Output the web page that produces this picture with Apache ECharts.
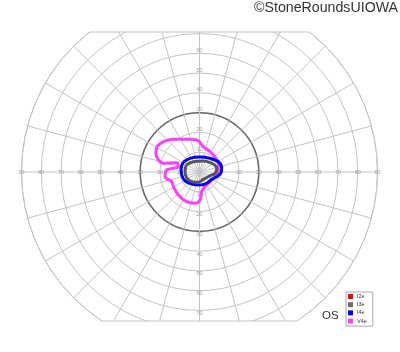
<!DOCTYPE html>
<html><head><meta charset="utf-8">
<script src="https://cdn.jsdelivr.net/npm/echarts@6/dist/echarts.min.js"></script>
<style>html,body{margin:0;padding:0;background:#fff}#c{width:400px;height:352px}</style>
</head><body><div id="c"></div>
<script>
// Isopters: points as [horizontal deg (right +), vertical deg (up +)]
const isopterNames = ['I2e', 'I3e', 'I4e', 'V4e'];
const isopterColors = ['#ff0000', '#6e6e6e', '#0000ff', '#ff3cff'];
const I2e = [];
const I3e = [[-6.8,3.5],[-3.1,5.2],[1.9,5.6],[6.2,4.4],[8.7,1.9],[7.8,-0.7],[5.3,-1.9],[1.9,-3.7],[-0.6,-5.2],[-3.9,-4.9],[-6.5,-2.9],[-7.3,0.2]];
const I4e = [[-8.2,4.9],[-4.8,6.9],[0.3,7.6],[5.3,6.9],[9.5,5.2],[11.2,2.2],[10.7,-0.7],[8.7,-2.4],[6.2,-3.7],[3.6,-5.7],[0.3,-6.6],[-3.9,-6.1],[-7.3,-4.5],[-9.0,-1.5],[-9.3,1.9]];
const V4e = [[-21.6,12.8],[-18.3,15.3],[-13.2,16.5],[-4.8,16.5],[-0.6,15.8],[1.9,12.8],[5.3,10.3],[7.8,7.7],[9.5,4.4],[9.5,1.0],[8.3,-2.0],[5.3,-4.9],[2.8,-7.4],[1.1,-9.9],[0.3,-14.1],[-2.3,-15.8],[-6.5,-15.0],[-10.7,-11.6],[-13.2,-7.4],[-14.0,-4.9],[-17.4,-2.4],[-16.6,1.0],[-10.7,2.7],[-11.5,4.7],[-18.3,4.4],[-20.8,6.1],[-22.0,9.4]];
const isopterData = [I2e, I3e, I4e, V4e];
// Tick labels
const hTicks = [10,20,30,40,50,60,70,80,90];
const vTicks = [10,20,30,40,50,60,70];
const copyrightText = '©StoneRoundsUIOWA';
const eyeText = 'OS';

const cx = 199.5, cy = 172, R = 178;
const topY = 32, botY = 321;

function toPolar(pts) {
  const out = pts.map(p => {
    const r = Math.sqrt(p[0]*p[0] + p[1]*p[1]);
    let a = Math.atan2(p[1], p[0]) * 180 / Math.PI;
    if (a < 0) a += 360;
    return [r, a];
  });
  if (out.length) out.push(out[0]);
  return out;
}

const chart = echarts.init(document.getElementById('c'), null, {renderer: 'canvas'});
const gridColor = '#c4c4c4';
const labelStyle = {fontSize: 5.5, color: '#8a8a8a', fontFamily: 'Liberation Sans'};

function tickSeries(ticks, angle, offset) {
  return {
    type: 'scatter', coordinateSystem: 'polar', polarIndex: 0, silent: true,
    symbolSize: 1, itemStyle: {color: 'rgba(0,0,0,0)'}, z: 1,
    label: Object.assign({show: true, position: 'inside', offset: offset,
      formatter: p => String(p.value[0])}, labelStyle),
    data: ticks.map(t => [t, angle])
  };
}

const series = [
  tickSeries(hTicks, 0, [0, 0]),
  tickSeries(hTicks, 180, [0, 0]),
  tickSeries(vTicks, 90, [0, -3]),
  tickSeries(vTicks, 270, [0, 3])
];
// draw order: V4e, I4e, I3e, I2e (I2e on top)
[3, 2, 1, 0].forEach(i => {
  series.push({
    name: isopterNames[i], type: 'line', coordinateSystem: 'polar', polarIndex: 0,
    color: isopterColors[i], showSymbol: false, symbol: 'none', smooth: 0.35, silent: true,
    lineStyle: {width: 3, color: i === 1 ? '#555' : isopterColors[i]}, z: 5 + (3 - i),
    data: toPolar(isopterData[i])
  });
});

const dxTop = Math.sqrt(R*R - (cy-topY)*(cy-topY));
const dxBot = Math.sqrt(R*R - (botY-cy)*(botY-cy));

chart.setOption({
  animation: false,
  backgroundColor: '#fff',
  polar: [{center: [cx, cy], radius: R}, {center: [cx, cy], radius: R}],
  angleAxis: [
    {polarIndex: 0, type: 'value', min: 0, max: 360, interval: 15, startAngle: 0, clockwise: false,
     axisLine: {show: true, lineStyle: {color: gridColor, width: 1}}, axisTick: {show: false},
     axisLabel: {show: false}, splitLine: {show: true, lineStyle: {color: gridColor, width: 1}}},
    {polarIndex: 1, type: 'value', min: 0, max: 360, startAngle: 0, clockwise: false, show: false}
  ],
  radiusAxis: [
    {polarIndex: 0, type: 'value', min: 0, max: 90, interval: 10,
     axisLine: {show: false}, axisTick: {show: false}, axisLabel: {show: false},
     splitLine: {show: true, lineStyle: {color: gridColor, width: 1}}},
    {polarIndex: 1, type: 'value', min: 0, max: 90, interval: 30,
     axisLine: {show: false}, axisTick: {show: false}, axisLabel: {show: false},
     splitLine: {show: true, lineStyle: {color: ['rgba(0,0,0,0)', '#666', 'rgba(0,0,0,0)', 'rgba(0,0,0,0)'], width: 1.5}}}
  ],
  legend: {
    data: isopterNames, orient: 'vertical', left: 346, top: 292, z: 200,
    padding: [1.5, 6, 2, 2], itemWidth: 5, itemHeight: 5, itemGap: 2.2,
    icon: 'rect', borderColor: '#aaa', borderWidth: 1, backgroundColor: '#fff',
    textStyle: {fontSize: 5.5, lineHeight: 5, color: '#333', fontFamily: 'Liberation Sans', padding: [0,0,0,-1]},
    selectedMode: false
  },
  graphic: [
    {type: 'rect', shape: {x: 0, y: 0, width: 400, height: topY}, style: {fill: '#fff'}, z: 100, silent: true},
    {type: 'rect', shape: {x: 0, y: botY, width: 400, height: 352 - botY}, style: {fill: '#fff'}, z: 100, silent: true},
    {type: 'line', shape: {x1: cx - dxTop, y1: topY, x2: cx + dxTop, y2: topY}, style: {stroke: gridColor, lineWidth: 1}, z: 101, silent: true},
    {type: 'line', shape: {x1: cx - dxBot, y1: botY, x2: cx + dxBot, y2: botY}, style: {stroke: gridColor, lineWidth: 1}, z: 101, silent: true},
    {type: 'text', right: 2, top: 1, z: 110, silent: true,
     style: {text: copyrightText, font: '14.2px "Liberation Sans"', fill: '#333'}},
    {type: 'text', left: 322, top: 309.5, z: 110, silent: true,
     style: {text: eyeText, font: '11.5px "Liberation Sans"', fill: '#333'}}
  ],
  series: series
});
</script></body></html>
